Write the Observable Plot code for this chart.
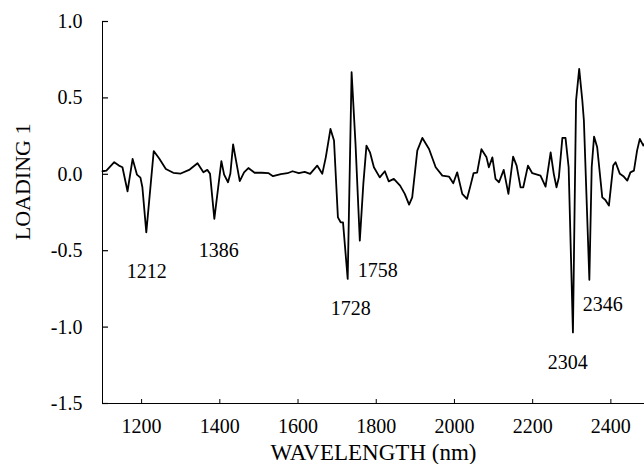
<!DOCTYPE html>
<html>
<head>
<meta charset="utf-8">
<script src="https://cdn.jsdelivr.net/npm/d3@7"></script>
<script src="https://cdn.jsdelivr.net/npm/@observablehq/plot@0.6"></script>
<style>
  html, body { margin: 0; padding: 0; background: #fff; overflow: hidden; }
</style>
</head>
<body>
<div id="chart"></div>
<script>
const wavelength = [1100,1110,1130,1142,1151,1164,1177,1188,1197,1202,1212,1231,1245,1262,1281,1300,1323,1343,1358,1368,1375,1386,1404,1411,1421,1427,1434,1441,1451,1462,1473,1489,1507,1524,1536,1556,1573,1586,1602,1617,1631,1649,1662,1671,1683,1692,1702,1709,1715,1727,1737,1747,1758,1767,1775,1784,1794,1809,1822,1832,1845,1861,1873,1884,1892,1905,1918,1935,1952,1969,1986,1997,2007,2020,2032,2041,2049,2058,2069,2082,2088,2097,2105,2114,2126,2138,2150,2159,2169,2176,2188,2199,2220,2233,2246,2254,2261,2267,2276,2284,2292,2303,2311,2319,2327,2331,2345,2351,2357,2365,2378,2386,2395,2406,2412,2423,2433,2442,2450,2459,2467,2474,2483,2486];
const loading = [0.02,0.024,0.079,0.057,0.046,-0.111,0.101,-0.002,-0.022,-0.085,-0.38,0.152,0.103,0.035,0.01,0.005,0.031,0.072,0.013,0.029,0.003,-0.292,0.086,-0.002,-0.052,0.005,0.196,0.096,-0.045,0.013,0.041,0.01,0.01,0.008,-0.012,0.001,0.007,0.02,0.007,0.016,0.003,0.057,0.003,0.111,0.297,0.221,-0.282,-0.314,-0.314,-0.685,0.668,0.199,-0.434,-0.063,0.188,0.144,0.046,-0.02,0.02,-0.046,-0.03,-0.074,-0.128,-0.198,-0.151,0.155,0.238,0.166,0.046,-0.009,-0.015,-0.059,0.013,-0.128,-0.161,-0.074,0.008,0.011,0.164,0.111,0.046,0.111,-0.03,-0.052,0.029,-0.128,0.116,0.057,-0.085,-0.085,0.057,0.007,-0.009,-0.081,0.144,0.003,-0.085,-0.02,0.238,0.238,0.046,-1.035,0.483,0.69,0.483,0.352,-0.69,0.046,0.247,0.177,-0.151,-0.168,-0.205,0.057,0.079,0.003,-0.015,-0.041,0.013,0.024,0.155,0.232,0.188,0.2];

const xTicks = [1200,1400,1600,1800,2000,2200,2400];
const yTicks = [-1.5,-1.0,-0.5,0.0,0.5,1.0];

const peakLabels = ["1212","1386","1728","1758","2304","2346"];
const peakLabelX = [1213,1397,1735,1804,2290,2379];
const peakLabelY = [-0.634,-0.5,-0.876,-0.63,-1.23,-0.85];

const xTitle = "WAVELENGTH (nm)";
const yTitle = "LOADING 1";

const series = wavelength.map((w, i) => ({wl: w, v: loading[i]}));
const notes = peakLabels.map((t, i) => ({t, x: peakLabelX[i], y: peakLabelY[i]}));
const xMin = 1100, yMin = -1.5;

const plot = Plot.plot({
  width: 644,
  height: 464,
  marginLeft: 102,
  marginRight: 0,
  marginTop: 21,
  marginBottom: 61,
  style: {fontFamily: "'Liberation Serif', 'Times New Roman', serif", fontSize: "20px", color: "black", background: "white", overflow: "visible"},
  x: {domain: [1100, 2486]},
  y: {domain: [-1.5, 1.0]},
  marks: [
    Plot.ruleX([xMin], {stroke: "black", strokeWidth: 1}),
    Plot.ruleY([yMin], {stroke: "black", strokeWidth: 1}),
    Plot.ruleY(yTicks, {y: d => d, x1: xMin, x2: xMin, insetRight: -6, stroke: "black", strokeWidth: 1.2}),
    Plot.ruleX(xTicks, {x: d => d, y1: yMin, y2: yMin, insetBottom: 4, stroke: "black", strokeWidth: 1}),
    Plot.axisY(yTicks, {tickSize: 0, tickPadding: 20, tickFormat: d => d.toFixed(1), label: null, fontSize: 20, fill: "black"}),
    Plot.axisX(xTicks, {tickSize: 0, tickPadding: 15, tickFormat: d => String(d), label: null, fontSize: 20, fill: "black"}),
    Plot.line(series, {x: "wl", y: "v", stroke: "black", strokeWidth: 1.8, strokeLinejoin: "round"}),
    Plot.text(notes, {x: "x", y: "y", text: "t", fontSize: 20, fill: "black"}),
    Plot.text([xTitle], {frameAnchor: "bottom", dy: 56, fontSize: 23, fill: "black"}),
    Plot.text([yTitle], {x: 896, y: -0.05, rotate: -90, fontSize: 22, fill: "black"})
  ]
});
document.getElementById("chart").appendChild(plot);
</script>
</body>
</html>
